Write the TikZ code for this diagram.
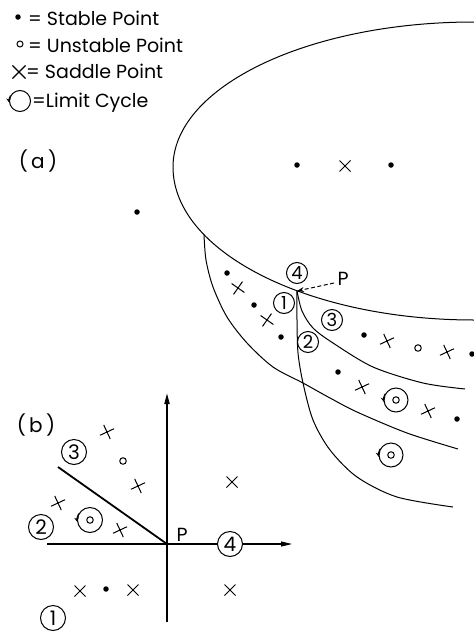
\documentclass[tikz,border=0pt]{standalone}
\usepackage{fontspec}
\setmainfont{Poppins}
\usetikzlibrary{arrows.meta,shapes.misc}
\begin{document}
\begin{tikzpicture}[x=1pt,y=1pt,
  stable/.style={circle,fill,inner sep=0pt,minimum size=5.5pt},
  unstable/.style={circle,draw,line width=1pt,inner sep=0pt,minimum size=6.5pt},
  saddle/.style={cross out,draw,line width=1pt,inner sep=0pt,minimum size=10pt,rotate=-20},
  usaddle/.style={cross out,draw,line width=1pt,inner sep=0pt,minimum size=10pt},
  cyc/.style={circle,draw,line width=1pt,inner sep=0pt,minimum size=24pt},
  cyctip/.style={line width=1pt,-{Stealth[length=4.5pt,width=4.5pt]}},
  lab/.style={font=\fontsize{19}{19}\selectfont,inner sep=0pt},
  num/.style={circle,draw,line width=1pt,inner sep=0pt,minimum size=21pt,font=\fontsize{18}{18}\selectfont},
  bnum/.style={num,minimum size=25pt,font=\fontsize{20}{20}\selectfont},
  curve/.style={line width=1pt},
  axis/.style={line width=1.8pt},
  tip/.style={-{Triangle[length=11pt,width=5pt]}},
]
\useasboundingbox (0,0) rectangle (474,-632);

% ---------- legend ----------
\node[stable] (lg1) at (18,-17) {};
\node[lab,anchor=base west] (lt1) at (28,-25) {= Stable Point};
\node[unstable,minimum size=6pt] (lg2) at (20,-44) {};
\node[lab,anchor=base west] (lt2) at (28,-52) {= Unstable Point};
\node[usaddle,minimum size=12pt,line width=1.1pt] (lg3) at (19,-72) {};
\node[lab,anchor=base west] (lt3) at (26,-78) {= Saddle Point};
\node[cyc,minimum size=21pt] (lg4) at (20,-101) {};
\draw[cyctip] (lg4.150) arc[start angle=150,end angle=190,radius=10.5];
\node[lab,anchor=base west] (lt4) at (32,-107) {=Limit Cycle};

% ---------- part (a) ----------
\node[lab,font=\fontsize{20}{20}\selectfont] (la) at (38,-161) {(\,a\,)};

\draw[curve] (474,-22) arc[start angle=90,end angle=180,x radius=301,y radius=145]
  arc[start angle=180,end angle=270,x radius=301,y radius=153];
\coordinate (P) at (297,-291);
\coordinate (A0) at (204,-235);
\draw[curve] plot[smooth] coordinates {(A0) (206,-260) (213,-287) (227,-317) (247,-343) (273,-367) (303,-383) (330,-398) (357,-412) (407,-433) (458,-449)};
\draw[curve] plot[smooth] coordinates {(P) (297,-320) (298,-353) (303,-383) (313,-420) (330,-450) (357,-477) (397,-497) (453,-507)};
\draw[curve] plot[smooth] coordinates {(P) (302,-311) (313,-328) (333,-343) (373,-367) (423,-383) (465,-389)};

\node[stable] (u1) at (297,-165) {};
\node[usaddle] (u2) at (345,-166) {};
\node[stable] (u3) at (391,-165) {};
\node[stable] (o1) at (137,-212) {};

\node[stable] (r1a) at (227,-273) {};
\node[saddle,rotate=30] (r1b) at (238,-288) {};
\node[stable] (r1c) at (254,-305) {};
\node[saddle,rotate=30] (r1d) at (267,-320) {};
\node[stable] (r1e) at (281,-337) {};

\node[stable] (r3a) at (364,-335) {};
\node[saddle] (r3b) at (387,-341) {};
\node[unstable] (r3c) at (418,-348) {};
\node[saddle] (r3d) at (447,-352) {};
\node[stable] (r3e) at (472,-354) {};

\node[stable] (r2a) at (338,-372) {};
\node[saddle] (r2b) at (362,-387) {};
\node[cyc] (r2c) at (396,-400) {};
\node[unstable] at (r2c.center) {};
\draw[cyctip] (r2c.150) arc[start angle=150,end angle=190,radius=12];
\node[saddle] (r2d) at (428,-411) {};
\node[stable] (r2e) at (457,-419) {};

\node[cyc] (r4c) at (391,-455) {};
\node[unstable] at (r4c.center) {};
\draw[cyctip] (r4c.150) arc[start angle=150,end angle=190,radius=12];

\node[num] (n4) at (297,-273) {4};
\node[num] (n1) at (284,-303) {1};
\node[num] (n2) at (308,-342) {2};
\node[num] (n3) at (332,-320) {3};
\node[lab] (Pl) at (343,-279) {P};
\coordinate (Ps) at (334,-283);
\draw[line width=1pt,dash pattern=on 4pt off 2.5pt,-{Stealth[length=7pt,width=5pt]}] (Ps) -- (P);

% ---------- part (b) ----------
\node[lab,font=\fontsize{20}{20}\selectfont] (lb) at (36,-425) {(\,b\,)};
\coordinate (Q) at (167,-544);
\coordinate (vb) at (167,-622);
\coordinate (vt) at (167,-393);
\coordinate (hl) at (47,-544);
\coordinate (dg) at (58,-467);
\coordinate (hr) at (292,-544);
\draw[axis,tip] (vb) -- (vt);
\draw[axis] (hl) -- (Q);
\draw[axis] (dg) -- (Q);
\node[bnum] (b4) at (230,-544) {4};
\draw[line width=1.1pt] (Q) -- (b4.west);
\draw[line width=1.1pt,tip] (b4.east) -- (hr);
\node[lab] (Pb) at (182,-535) {P};

\node[bnum] (b3) at (74,-452) {3};
\node[bnum] (b2) at (41,-527) {2};
\node[bnum] (b1) at (53,-618) {1};

\node[saddle] (s1) at (107,-432) {};
\node[unstable] (s2) at (123,-461) {};
\node[saddle] (s3) at (138,-486) {};
\node[saddle] (s4) at (58,-503) {};
\node[cyc,minimum size=25pt] (s5) at (90,-520) {};
\node[unstable] at (s5.center) {};
\draw[cyctip] (s5.150) arc[start angle=150,end angle=190,radius=12.5];
\node[saddle] (s6) at (120,-530) {};
\node[usaddle] (s7) at (232,-482) {};
\node[usaddle] (s8) at (230,-590) {};
\node[usaddle] (s9) at (80,-591) {};
\node[stable] (s10) at (106,-589) {};
\node[usaddle] (s11) at (133,-590) {};
\end{tikzpicture}
\end{document}
